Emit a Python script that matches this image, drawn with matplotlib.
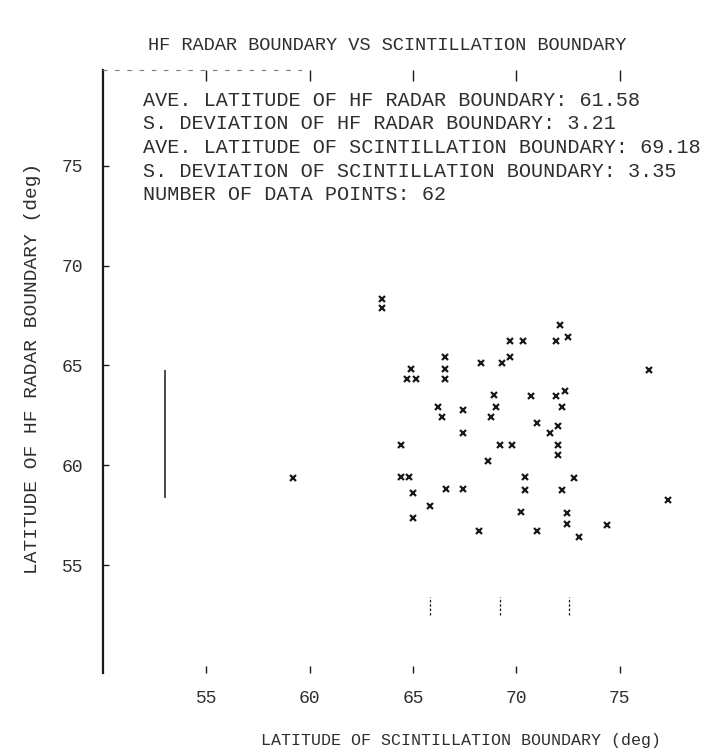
import matplotlib
matplotlib.use("Agg")
import matplotlib.pyplot as plt

# scintillation boundary latitude (deg) vs HF radar boundary latitude (deg)
scint_lat = [63.50, 63.50, 72.11, 69.69, 70.32, 71.90, 72.51, 66.53, 68.30, 69.29,
             69.69, 76.43, 64.92, 66.53, 64.71, 65.13, 66.53, 68.92, 70.71, 71.92,
             72.33, 66.21, 67.40, 69.02, 72.21, 66.42, 68.79, 71.00, 71.61, 72.02,
             67.40, 64.42, 69.21, 69.80, 72.02, 72.02, 68.61, 64.42, 64.79, 70.42,
             72.80, 65.01, 66.61, 67.40, 70.42, 72.22, 77.35, 65.82, 65.00, 70.22,
             72.42, 72.43, 74.39, 68.21, 71.00, 73.01, 59.21]
radar_lat = [68.35, 67.88, 67.05, 66.24, 66.24, 66.21, 66.43, 65.43, 65.13, 65.13,
             65.41, 64.79, 64.82, 64.82, 64.30, 64.30, 64.30, 63.50, 63.49, 63.49,
             63.74, 62.92, 62.75, 62.92, 62.92, 62.42, 62.42, 62.12, 61.63, 61.95,
             61.64, 61.03, 61.03, 61.00, 61.03, 60.51, 60.21, 59.41, 59.41, 59.41,
             59.37, 58.61, 58.79, 58.79, 58.77, 58.77, 58.27, 57.97, 57.35, 57.65,
             57.63, 57.05, 57.03, 56.73, 56.73, 56.43, 59.37]

radar_mean, radar_sd = 61.58, 3.21
scint_mean, scint_sd = 69.18, 3.35
n_points = 62

x_ticks = [55, 60, 65, 70, 75]
y_ticks = [55, 60, 65, 70, 75]
top_ticks = [55, 60, 65, 70, 75]

stats_lines = [
    f"AVE. LATITUDE OF HF RADAR BOUNDARY: {radar_mean:.2f}",
    f"S. DEVIATION OF HF RADAR BOUNDARY: {radar_sd:.2f}",
    f"AVE. LATITUDE OF SCINTILLATION BOUNDARY: {scint_mean:.2f}",
    f"S. DEVIATION OF SCINTILLATION BOUNDARY: {scint_sd:.2f}",
    f"NUMBER OF DATA POINTS: {n_points}",
]

INK = "#1a1a1a"
TXT = "#2e2e2e"
MONO = "Liberation Mono"

fig = plt.figure(figsize=(7.21, 7.51), dpi=100)
ax = fig.add_axes([0.1429, 0.1039, 0.853, 0.8029])
ax.set_xlim(50.0, 79.75)
ax.set_ylim(49.6, 79.8)

ax.plot(scint_lat, radar_lat, linestyle="none", marker="x", markersize=5,
        markeredgewidth=1.6, color=INK)

# mean +/- s.d. markers
ax.vlines(53.0, radar_mean - radar_sd, radar_mean + radar_sd, color=INK, lw=1.1)
ax.vlines([scint_mean - scint_sd, scint_mean, scint_mean + scint_sd], 52.5, 53.4,
          color=INK, lw=0.9, linestyles=(0, (2, 1.5)))

# frame: solid left axis, faint dashed top (left part only), nothing else
for side in ["right", "bottom"]:
    ax.spines[side].set_visible(False)
ax.spines["left"].set_linewidth(1.6)
ax.spines["left"].set_color(INK)
ax.spines["top"].set_linewidth(0.8)
ax.spines["top"].set_color("#777777")
ax.spines["top"].set_linestyle((0, (3, 8)))
ax.spines["top"].set_bounds(50.0, 59.6)

ax.set_xticks(x_ticks)
ax.set_xticklabels([str(v) for v in x_ticks])
ax.set_yticks(y_ticks)
ax.set_yticklabels([str(v) for v in y_ticks])
ax.tick_params(axis="x", direction="in", length=5, width=1.0, color=INK,
               pad=12, labelsize=13, labelcolor=TXT)
ax.tick_params(axis="y", direction="in", length=4, width=1.0, color=INK,
               pad=14, labelsize=13, labelcolor=TXT)
for lab in ax.get_xticklabels() + ax.get_yticklabels():
    lab.set_family(MONO)

top = ax.secondary_xaxis("top")
top.set_xticks(top_ticks)
top.set_xticklabels([])
top.spines["top"].set_visible(False)
top.tick_params(direction="in", length=8, width=1.0, color=INK)

fig.text(148 / 721, 0.940, "HF RADAR BOUNDARY VS SCINTILLATION BOUNDARY",
         family=MONO, fontsize=13.4, color=TXT, ha="left", va="center")

for i, line in enumerate(stats_lines):
    y_px = 100 + i * 23.7
    fig.text(0.198, 1 - y_px / 751, line, family=MONO, fontsize=14.5,
             color=TXT, ha="left", va="center")

fig.text(0.64, 0.014, "LATITUDE OF SCINTILLATION BOUNDARY (deg)",
         family=MONO, fontsize=12, color=TXT, ha="center", va="center")
fig.text(0.045, 0.51, "LATITUDE OF HF RADAR BOUNDARY (deg)",
         family=MONO, fontsize=14, color=TXT, ha="center", va="center",
         rotation=90)

fig.savefig("out.png", dpi=100, facecolor="white")
